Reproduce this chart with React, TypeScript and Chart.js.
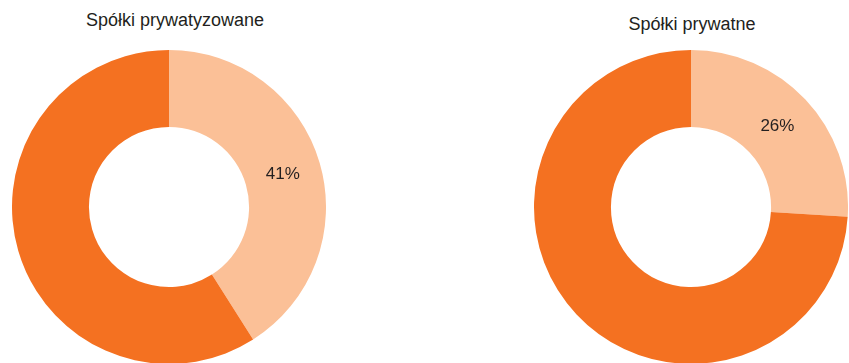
import React, { useEffect, useRef } from "react";
import { Chart, registerables } from "chart.js";

Chart.register(...registerables);

const categories = ["Udział", "Pozostałe"];
const leftTitle = "Spółki prywatyzowane";
const rightTitle = "Spółki prywatne";
const leftValues = [41, 59];
const rightValues = [26, 74];
const colors = ["#FBC097", "#F47121"];

const labelPlugin = {
  id: "firstLabel",
  afterDatasetsDraw(chart: any) {
    const meta = chart.getDatasetMeta(0);
    const data = chart.data.datasets[0].data as number[];
    const ctx = chart.ctx;
    const arc = meta.data[0];
    if (!arc) return;
    const pos = arc.tooltipPosition(false);
    ctx.save();
    ctx.font = '17px "Liberation Sans", Arial, sans-serif';
    ctx.fillStyle = "#231F20";
    ctx.textAlign = "center";
    ctx.textBaseline = "middle";
    ctx.fillText(`${data[0]}%`, pos.x, pos.y);
    ctx.restore();
  },
};

function Donut({ values, left, top }: { values: number[]; left: number; top: number }) {
  const ref = useRef<HTMLCanvasElement | null>(null);
  useEffect(() => {
    if (!ref.current) return;
    const chart = new Chart(ref.current, {
      type: "doughnut",
      data: {
        labels: categories,
        datasets: [
          {
            data: values,
            backgroundColor: colors,
            borderWidth: 0,
            hoverOffset: 0,
          },
        ],
      },
      options: {
        responsive: false,
        animation: false,
        events: [],
        cutout: "51%",
        layout: { padding: 0 },
        plugins: {
          legend: { display: false },
          tooltip: { enabled: false },
          title: { display: false },
        },
      },
      plugins: [labelPlugin],
    });
    return () => chart.destroy();
  }, [values]);
  return (
    <canvas
      ref={ref}
      width={314}
      height={314}
      style={{ position: "absolute", left, top, width: 314, height: 314 }}
    />
  );
}

const titleStyle: React.CSSProperties = {
  position: "absolute",
  width: 400,
  textAlign: "center",
  font: '18px "Liberation Sans", Arial, sans-serif',
  lineHeight: "18px",
  color: "#231F20",
  whiteSpace: "nowrap",
};

export default function App() {
  useEffect(() => {
    document.body.style.margin = "0";
    document.body.style.overflow = "hidden";
  }, []);
  return (
    <div
      style={{
        position: "fixed",
        left: 0,
        top: 0,
        width: 849,
        height: 363,
        overflow: "hidden",
        background: "#fff",
      }}
    >
      <div style={{ ...titleStyle, left: 175 - 200, top: 11 }}>{leftTitle}</div>
      <div style={{ ...titleStyle, left: 692 - 200, top: 15 }}>{rightTitle}</div>
      <Donut values={leftValues} left={12} top={50} />
      <Donut values={rightValues} left={534} top={50} />
    </div>
  );
}
